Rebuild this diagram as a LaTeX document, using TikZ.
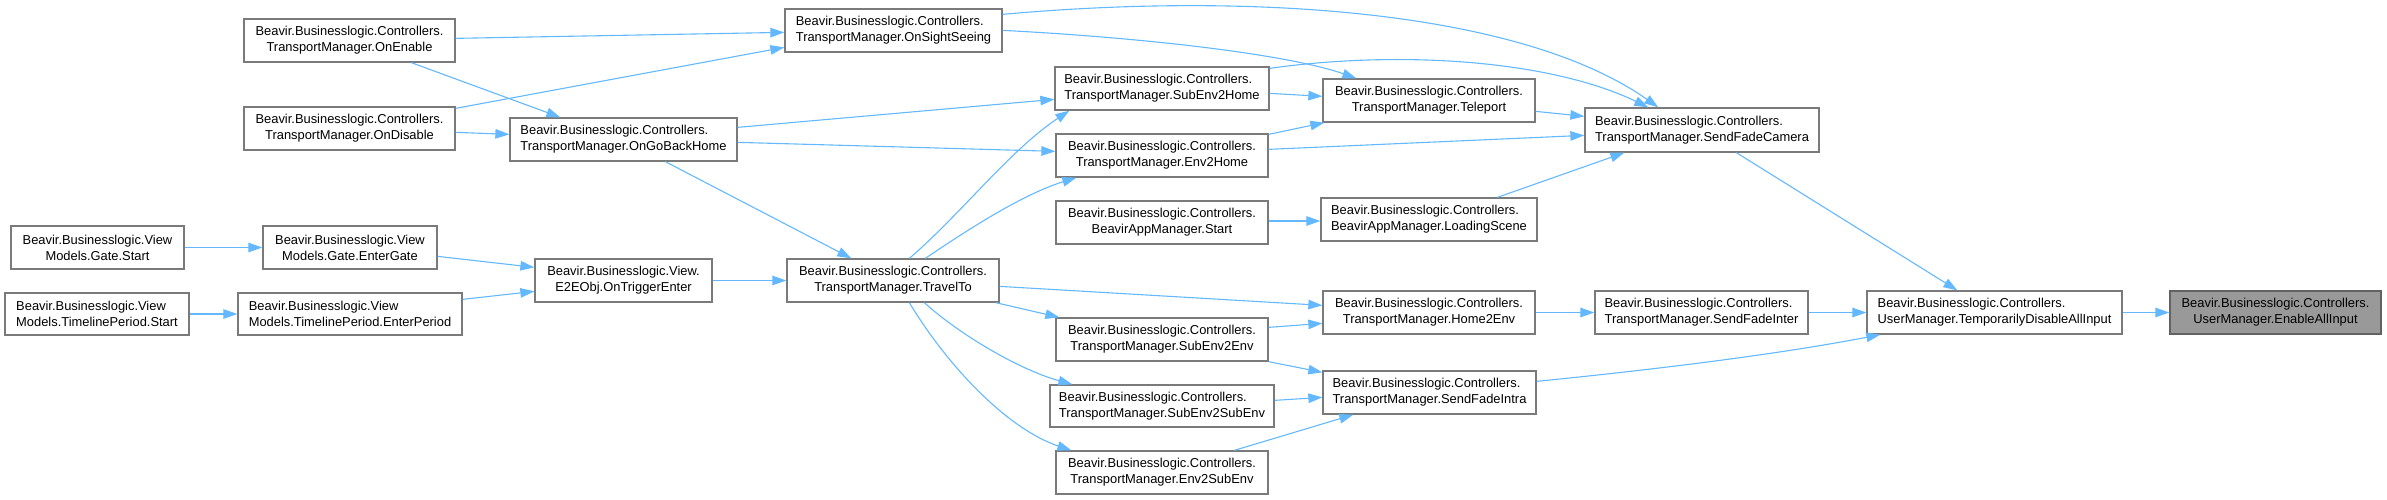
\documentclass[tikz,border=0pt]{standalone}
\usepackage{fontspec}
\setmainfont{Liberation Sans}
\usetikzlibrary{arrows.meta}
\definecolor{edgeblue}{HTML}{63B8FF}
\definecolor{boxgray}{HTML}{7A7A7A}
\definecolor{focusgray}{HTML}{999999}
\begin{document}
\begin{tikzpicture}[x=1pt,y=-1pt,
  box/.style={draw=boxgray, line width=1.3pt, fill=white, minimum height=43pt, inner sep=0pt,
    font=\fontsize{12.9}{16}\selectfont},
  lbox/.style={box, align=left},
  cbox/.style={box, align=center},
  e/.style={draw=edgeblue, line width=1.1pt, -{Triangle[length=14pt,width=9.5pt]}}]
\useasboundingbox (0,0) rectangle (2387,499);
% column 1
\node[cbox, minimum width=173pt] (gatestart) at (97.5,247.5) {Beavir.Businesslogic.View\\Models.Gate.Start};
\node[lbox, minimum width=184pt, minimum height=42pt] (tlstart) at (97,314) {Beavir.Businesslogic.View\\Models.TimelinePeriod.Start};
% column 2
\node[cbox, minimum width=211pt] (onenable) at (349.5,40.5) {Beavir.Businesslogic.Controllers.\\TransportManager.OnEnable};
\node[cbox, minimum width=211pt] (ondisable) at (349.5,128.5) {Beavir.Businesslogic.Controllers.\\TransportManager.OnDisable};
\node[cbox, minimum width=174pt] (entergate) at (350,247.5) {Beavir.Businesslogic.View\\Models.Gate.EnterGate};
\node[lbox, minimum width=224pt, minimum height=42pt] (enterperiod) at (350,314) {Beavir.Businesslogic.View\\Models.TimelinePeriod.EnterPeriod};
% column 3
\node[lbox, minimum width=227pt] (ongoback) at (623.5,139.5) {Beavir.Businesslogic.Controllers.\\TransportManager.OnGoBackHome};
\node[cbox, minimum width=177pt] (e2e) at (623.5,280.5) {Beavir.Businesslogic.View.\\E2EObj.OnTriggerEnter};
% column 4
\node[lbox, minimum width=217pt] (sight) at (893.5,30.5) {Beavir.Businesslogic.Controllers.\\TransportManager.OnSightSeeing};
\node[cbox, minimum width=212pt] (travelto) at (893,280.5) {Beavir.Businesslogic.Controllers.\\TransportManager.TravelTo};
% column 5
\node[lbox, minimum width=214pt] (sub2home) at (1162,88.5) {Beavir.Businesslogic.Controllers.\\TransportManager.SubEnv2Home};
\node[cbox, minimum width=212pt] (env2home) at (1162,155.5) {Beavir.Businesslogic.Controllers.\\TransportManager.Env2Home};
\node[cbox, minimum width=212pt] (appstart) at (1162,222.5) {Beavir.Businesslogic.Controllers.\\BeavirAppManager.Start};
\node[cbox, minimum width=212pt] (sub2env) at (1162,339.5) {Beavir.Businesslogic.Controllers.\\TransportManager.SubEnv2Env};
\node[lbox, minimum width=224pt, minimum height=42pt] (sub2sub) at (1162,406) {Beavir.Businesslogic.Controllers.\\TransportManager.SubEnv2SubEnv};
\node[cbox, minimum width=212pt] (env2sub) at (1162,472.5) {Beavir.Businesslogic.Controllers.\\TransportManager.Env2SubEnv};
% column 6
\node[cbox, minimum width=212pt] (teleport) at (1429,100.5) {Beavir.Businesslogic.Controllers.\\TransportManager.Teleport};
\node[lbox, minimum width=216pt] (loading) at (1429,219.5) {Beavir.Businesslogic.Controllers.\\BeavirAppManager.LoadingScene};
\node[cbox, minimum width=212pt] (home2env) at (1429,312.5) {Beavir.Businesslogic.Controllers.\\TransportManager.Home2Env};
\node[lbox, minimum width=213pt] (intra) at (1429.5,392.5) {Beavir.Businesslogic.Controllers.\\TransportManager.SendFadeIntra};
% column 7
\node[lbox, minimum width=234pt, minimum height=44pt] (camera) at (1702,130) {Beavir.Businesslogic.Controllers.\\TransportManager.SendFadeCamera};
\node[lbox, minimum width=213pt] (inter) at (1701.5,312.5) {Beavir.Businesslogic.Controllers.\\TransportManager.SendFadeInter};
% column 8
\node[lbox, minimum width=255pt] (tdai) at (1994.5,312.5) {Beavir.Businesslogic.Controllers.\\UserManager.TemporarilyDisableAllInput};
% column 9
\node[cbox, minimum width=211pt, fill=focusgray, draw=boxgray!80!black] (enable) at (2275.5,312.5) {Beavir.Businesslogic.Controllers.\\UserManager.EnableAllInput};

% edges
\draw[e] ([yshift=-20pt]onenable.north east) -- ([yshift=-24pt]sight.north west);
\draw[e] ([xshift=168pt]onenable.south west) -- ([xshift=51pt]ongoback.north west);
\draw[e] ([yshift=-2pt]ondisable.north east) -- ([yshift=-39pt]sight.north west);
\draw[e] ([yshift=-26pt]ondisable.north east) -- ([yshift=-17pt]ongoback.north west);
\draw[e] ([yshift=-6pt]sight.north east) .. controls (1250,-8) and (1520,10) .. ([xshift=74pt]camera.north west);
\draw[e] ([yshift=-22pt]sight.north east) .. controls (1150,38) and (1290,55) .. ([xshift=34pt]teleport.north west);
\draw[e] ([yshift=-10pt]ongoback.north east) -- ([yshift=-33pt]sub2home.north west);
\draw[e] ([yshift=-25pt]ongoback.north east) -- ([yshift=-18pt]env2home.north west);
\draw[e] ([xshift=156pt]ongoback.south west) -- ([xshift=65pt]travelto.north west);
\draw[e] ([yshift=-27pt]sub2home.north east) -- ([yshift=-18pt]teleport.north west);
\draw[e] ([yshift=-2pt]sub2home.north east) .. controls (1400,50) and (1550,60) .. ([xshift=64pt]camera.north west);
\draw[e] ([yshift=-1pt]env2home.north east) -- ([xshift=2pt]teleport.south west);
\draw[e] ([yshift=-16pt]env2home.north east) -- ([yshift=-28pt]camera.north west);
\draw[e] ([yshift=-33pt]teleport.north east) -- ([yshift=-9pt]camera.north west);
\draw[e] ([yshift=1.5pt]appstart.east) -- ([yshift=-1.5pt]loading.west);
\draw[e] ([xshift=177pt]loading.north west) -- ([xshift=40pt]camera.south west);
\draw[e] ([xshift=152pt]camera.south west) -- ([xshift=91pt]tdai.north west);
\draw[e] (gatestart.east) -- (entergate.west);
\draw[e] ([yshift=-31pt]entergate.north east) -- ([yshift=-9pt]e2e.north west);
\draw[e] (tlstart.east) -- (enterperiod.west);
\draw[e] ([yshift=-7pt]enterperiod.north east) -- ([yshift=-33pt]e2e.north west);
\draw[e] (e2e.east) -- (travelto.west);
\draw[e] ([xshift=123pt]travelto.north west) .. controls (960,215) and (1010,150) .. ([xshift=15pt]sub2home.south west);
\draw[e] ([xshift=139pt]travelto.north west) .. controls (960,235) and (1020,195) .. ([xshift=21pt]env2home.south west);
\draw[e] ([yshift=-28pt]travelto.north east) -- ([yshift=-15pt]home2env.north west);
\draw[e] ([xshift=-4pt]travelto.south east) -- ([xshift=4pt]sub2env.north west);
\draw[e] ([xshift=138pt]travelto.south west) .. controls (960,335) and (1020,370) .. ([xshift=23pt]sub2sub.north west);
\draw[e] ([xshift=123pt]travelto.south west) .. controls (950,370) and (1010,430) .. ([xshift=16pt]env2sub.north west);
\draw[e] ([yshift=-10pt]sub2env.north east) -- ([yshift=-33pt]home2env.north west);
\draw[e] (sub2env.south east) -- ([yshift=-2pt]intra.north west);
\draw[e] ([yshift=-16pt]sub2sub.north east) -- ([yshift=-27pt]intra.north west);
\draw[e] ([xshift=179pt]env2sub.north west) -- ([xshift=31pt]intra.south west);
\draw[e] (home2env.east) -- (inter.west);
\draw[e] ([yshift=-11pt]intra.north east) .. controls (1680,367) and (1790,352) .. ([xshift=14pt]tdai.south west);
\draw[e] (inter.east) -- (tdai.west);
\draw[e] (tdai.east) -- (enable.west);
\end{tikzpicture}
\end{document}
